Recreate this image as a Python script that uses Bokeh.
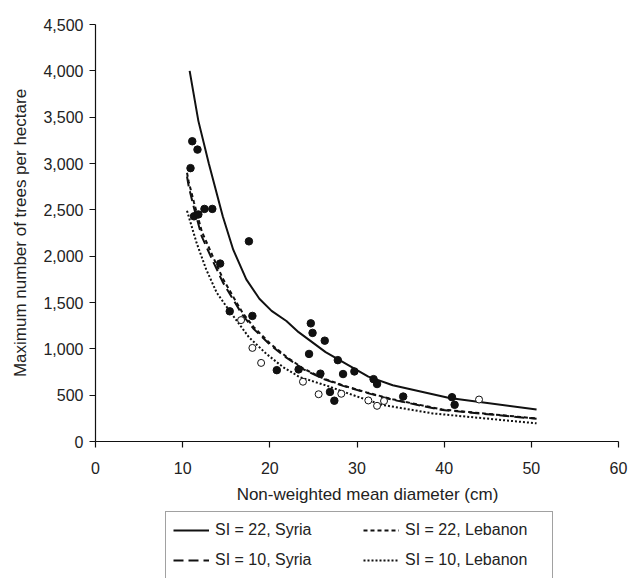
from bokeh.plotting import figure
from bokeh.layouts import column
from bokeh.models import Range1d, FixedTicker, NumeralTickFormatter, Legend, LegendItem, Label
from bokeh.embed import file_html
from bokeh.resources import INLINE

FONT = "Liberation Sans"

# Observed stands (Syria: filled, Lebanon: open)
syria_d = [10.9, 11.1, 11.7, 11.3, 11.8, 12.5, 13.4, 14.3, 15.4, 17.6, 18.0, 20.8, 23.3,
           24.5, 24.7, 24.9, 25.8, 26.3, 26.9, 27.4, 27.8, 28.4, 29.7, 31.9, 32.3, 35.3,
           40.9, 41.2]
syria_n = [2950, 3240, 3150, 2430, 2450, 2510, 2510, 1920, 1405, 2160, 1355, 770, 778,
           945, 1275, 1172, 732, 1088, 535, 440, 878, 728, 756, 673, 620, 485,
           478, 396]
leb_d = [16.7, 18.0, 19.0, 23.8, 25.6, 28.2, 31.3, 32.3, 33.1, 44.0]
leb_n = [1310, 1010, 848, 645, 510, 515, 443, 385, 437, 453]

# Fitted maximum-density curves
s22_d = [10.8, 11.8, 13.0, 14.6, 15.8, 17.3, 18.8, 20.2, 21.9, 23.3, 26.4, 29.1, 31.3, 34.1, 40.6, 50.6]
s22_n = [4000, 3460, 3000, 2430, 2070, 1750, 1540, 1410, 1300, 1180, 965, 820, 700, 607, 470, 345]

l22_d = [10.5, 10.7, 11.3, 12.2, 13.4, 14.6, 15.9, 16.9, 18.1, 20.0, 21.9, 23.8, 26.1, 28.4, 31.1, 34.1, 39.8, 50.6]
l22_n = [2900, 2800, 2580, 2265, 2010, 1760, 1545, 1385, 1240, 1060, 915, 790, 682, 605, 530, 455, 345, 248]

s10_d = [10.5, 10.7, 11.3, 12.2, 13.4, 14.6, 15.9, 16.9, 18.1, 20.0, 21.9, 23.8, 26.1, 28.4, 31.1, 34.1, 39.8, 50.6]
s10_n = [2860, 2750, 2520, 2210, 1960, 1720, 1515, 1360, 1220, 1045, 905, 782, 676, 600, 525, 450, 340, 245]

l10_d = [10.5, 11.6, 12.7, 13.9, 15.5, 17.6, 19.6, 21.5, 23.4, 26.6, 29.1, 31.3, 32.9, 38.7, 50.6]
l10_n = [2490, 2143, 1857, 1607, 1393, 1125, 946, 804, 696, 600, 515, 445, 395, 303, 196]

x_ticks = [0, 10, 20, 30, 40, 50, 60]
y_ticks = [0, 500, 1000, 1500, 2000, 2500, 3000, 3500, 4000, 4500]
x_title = "Non-weighted mean diameter (cm)"
y_title = "Maximum number of trees per hectare"
series_labels = ["SI = 22, Syria", "SI = 22, Lebanon", "SI = 10, Syria", "SI = 10, Lebanon"]
curves = [(s22_d, s22_n), (l22_d, l22_n), (s10_d, s10_n), (l10_d, l10_n)]

INK = "#111111"
TXT = "#222222"

p = figure(frame_width=523, frame_height=417, output_backend="svg", toolbar_location=None,
           x_range=Range1d(0, 60), y_range=Range1d(0, 4500),
           min_border_left=95, min_border_right=17, min_border_top=24, min_border_bottom=39)
p.outline_line_color = None
p.grid.visible = False
p.background_fill_color = "white"
p.border_fill_color = "white"

for ax in (p.xaxis[0], p.yaxis[0]):
    ax.axis_line_color = INK
    ax.axis_line_width = 1.2
    ax.major_tick_line_color = INK
    ax.major_tick_line_width = 1.2
    ax.major_tick_out = 6
    ax.major_tick_in = 0
    ax.minor_tick_line_color = None
    ax.major_label_text_font = FONT
    ax.major_label_text_font_size = "16px"
    ax.major_label_text_color = TXT
    ax.axis_label_text_font = FONT
    ax.axis_label_text_font_size = "17px"
    ax.axis_label_text_font_style = "normal"
    ax.axis_label_text_color = TXT

p.xaxis.ticker = FixedTicker(ticks=x_ticks)
p.yaxis.ticker = FixedTicker(ticks=y_ticks)
p.yaxis.formatter = NumeralTickFormatter(format="0,0")
p.yaxis.axis_label = y_title
p.xaxis.major_label_standoff = 14
p.yaxis.major_label_standoff = 6
p.yaxis.axis_label_standoff = 10

styles = [dict(line_dash="solid"), dict(line_dash="4 3"), dict(line_dash="10 5"), dict(line_dash="2 2")]

for (cx, cy), st in zip(curves, styles):
    p.line(cx, cy, line_color=INK, line_width=2, **st)

p.scatter(syria_d, syria_n, size=7.5, fill_color=INK, line_color=INK)
p.scatter(leb_d, leb_n, size=7, fill_color="white", line_color=INK, line_width=1)

# Lower panel: x-axis title and legend (its frame is aligned with the main frame: starts at x=95)
q = figure(width=635, height=98, output_backend="svg", toolbar_location=None,
           x_range=Range1d(0, 1), y_range=Range1d(0, 1),
           x_axis_type=None, y_axis_type=None,
           min_border_left=0, min_border_right=0, min_border_top=0, min_border_bottom=0)
q.outline_line_color = None
q.grid.visible = False
q.background_fill_color = "white"
q.border_fill_color = "white"

q.add_layout(Label(x=272, y=84, x_units="screen", y_units="screen", text=x_title,
                   text_align="center", text_baseline="middle",
                   text_font=FONT, text_font_size="17px", text_color=TXT))

# legend keys: same curves, lying outside this panel's visible ranges
keys = [q.line(cx, cy, line_color=INK, line_width=2, **st) for (cx, cy), st in zip(curves, styles)]
legend = Legend(items=[LegendItem(label=series_labels[i], renderers=[keys[i]]) for i in range(4)],
                location=(70, -1), orientation="horizontal", ncols=2)
legend.border_line_color = "#444444"
legend.border_line_width = 1
legend.background_fill_color = "white"
legend.background_fill_alpha = 1
legend.label_text_font = FONT
legend.label_text_font_size = "16px"
legend.label_text_color = TXT
legend.padding = 7
legend.spacing = 8
legend.margin = 0
legend.glyph_width = 36
legend.glyph_height = 22
legend.label_height = 22
legend.label_standoff = 6
legend.label_width = 140
q.add_layout(legend, "center")

layout = column(p, q, spacing=0)
open("out.html", "w").write(file_html(layout, INLINE))
